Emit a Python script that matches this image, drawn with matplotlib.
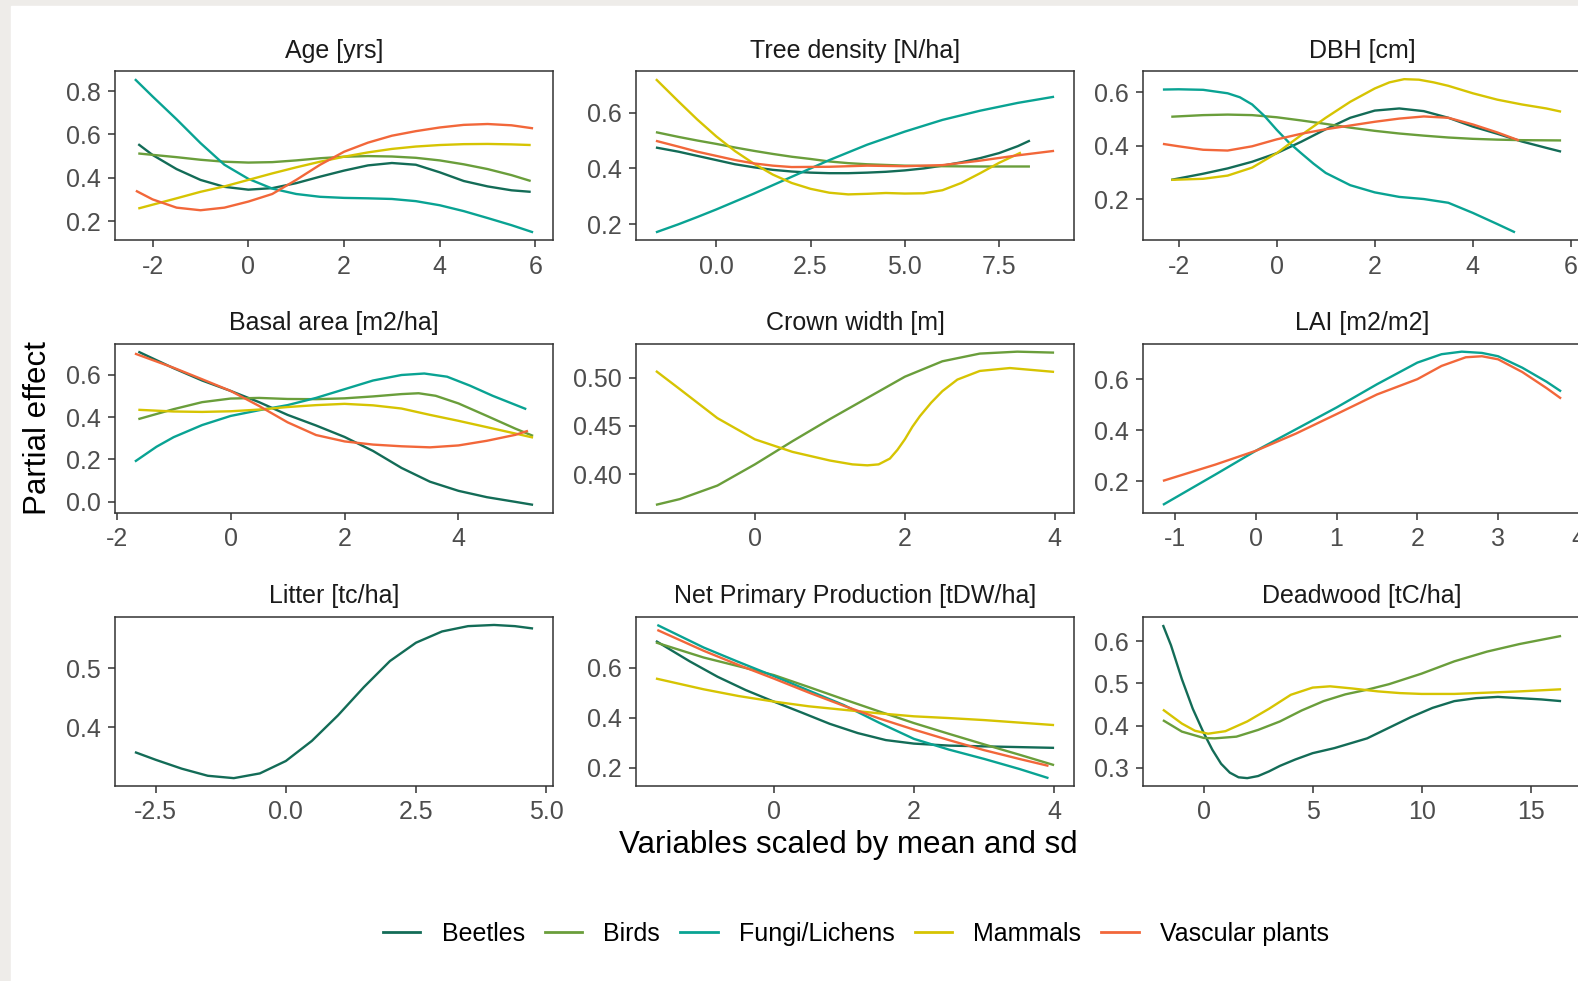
import matplotlib
matplotlib.use("Agg")
import matplotlib.pyplot as plt
from matplotlib.patches import Rectangle
from matplotlib.lines import Line2D

plt.rcParams['font.family'] = ['Liberation Sans', 'DejaVu Sans']

species = ["Beetles", "Birds", "Fungi/Lichens", "Mammals", "Vascular plants"]
colors = ["#136c57", "#6a9e3b", "#09a393", "#d6c402", "#f2673a"]

titles = ["Age [yrs]", "Tree density [N/ha]", "DBH [cm]",
          "Basal area [m2/ha]", "Crown width [m]", "LAI [m2/m2]",
          "Litter [tc/ha]", "Net Primary Production [tDW/ha]", "Deadwood [tC/ha]"]

# tick positions / labels
xticks = [[-2, 0, 2, 4, 6], [0.0, 2.5, 5.0, 7.5], [-2, 0, 2, 4, 6],
          [-2, 0, 2, 4], [0, 2, 4], [-1, 0, 1, 2, 3, 4],
          [-2.5, 0.0, 2.5, 5.0], [0, 2, 4], [0, 5, 10, 15]]
xfmt = ["{:.0f}", "{:.1f}", "{:.0f}", "{:.0f}", "{:.0f}", "{:.0f}", "{:.1f}", "{:.0f}", "{:.0f}"]
yticks = [[0.2, 0.4, 0.6, 0.8], [0.2, 0.4, 0.6], [0.2, 0.4, 0.6],
          [0.0, 0.2, 0.4, 0.6], [0.40, 0.45, 0.50], [0.2, 0.4, 0.6],
          [0.4, 0.5], [0.2, 0.4, 0.6], [0.3, 0.4, 0.5, 0.6]]
yfmt = ["{:.1f}", "{:.1f}", "{:.1f}", "{:.1f}", "{:.2f}", "{:.1f}", "{:.1f}", "{:.1f}", "{:.1f}"]

# ---- Age
age_beetles_x = [-2.3, -2.0, -1.5, -1.0, -0.5, 0.0, 0.5, 1.0, 1.5, 2.0, 2.5, 3.0, 3.5, 4.0, 4.5, 5.0, 5.5, 5.9]
age_beetles_y = [0.555, 0.505, 0.44, 0.39, 0.358, 0.345, 0.352, 0.375, 0.405, 0.433, 0.457, 0.468, 0.46, 0.425, 0.385, 0.36, 0.342, 0.335]
age_birds_x = [-2.3, -1.5, -1.0, -0.5, 0.0, 0.5, 1.0, 1.5, 2.0, 2.5, 3.0, 3.5, 4.0, 4.5, 5.0, 5.5, 5.9]
age_birds_y = [0.512, 0.495, 0.483, 0.474, 0.47, 0.472, 0.48, 0.49, 0.497, 0.5, 0.498, 0.492, 0.48, 0.462, 0.44, 0.412, 0.385]
age_fungi_x = [-2.37, -2.0, -1.5, -1.0, -0.5, 0.0, 0.5, 1.0, 1.5, 2.0, 2.5, 3.0, 3.5, 4.0, 4.5, 5.0, 5.5, 5.95]
age_fungi_y = [0.855, 0.775, 0.67, 0.56, 0.46, 0.395, 0.35, 0.325, 0.312, 0.307, 0.305, 0.302, 0.292, 0.273, 0.246, 0.214, 0.181, 0.148]
age_mammals_x = [-2.3, -1.5, -1.0, -0.5, 0.0, 0.5, 1.0, 1.5, 2.0, 2.5, 3.0, 3.5, 4.0, 4.5, 5.0, 5.5, 5.9]
age_mammals_y = [0.258, 0.305, 0.335, 0.36, 0.39, 0.42, 0.448, 0.474, 0.497, 0.517, 0.533, 0.544, 0.551, 0.555, 0.556, 0.554, 0.551]
age_vascular_x = [-2.35, -2.0, -1.5, -1.0, -0.5, 0.0, 0.5, 1.0, 1.5, 2.0, 2.5, 3.0, 3.5, 4.0, 4.5, 5.0, 5.5, 5.95]
age_vascular_y = [0.34, 0.30, 0.262, 0.25, 0.262, 0.29, 0.325, 0.39, 0.46, 0.52, 0.562, 0.594, 0.615, 0.632, 0.644, 0.648, 0.642, 0.628]

# ---- Tree density
tree_beetles_x = [-1.6, -1.0, -0.5, 0.0, 0.5, 1.0, 1.5, 2.0, 2.5, 3.0, 3.5, 4.0, 4.5, 5.0, 5.5, 6.0, 6.5, 7.0, 7.5, 8.0, 8.32]
tree_beetles_y = [0.475, 0.46, 0.445, 0.43, 0.415, 0.404, 0.395, 0.389, 0.385, 0.383, 0.383, 0.385, 0.388, 0.393, 0.4, 0.41, 0.422, 0.437, 0.455, 0.48, 0.5]
tree_birds_x = [-1.6, -1.0, -0.5, 0.0, 0.5, 1.0, 1.5, 2.0, 2.5, 3.0, 3.5, 4.0, 5.0, 6.0, 7.0, 8.32]
tree_birds_y = [0.53, 0.513, 0.5, 0.488, 0.475, 0.463, 0.452, 0.442, 0.434, 0.425, 0.419, 0.415, 0.41, 0.408, 0.407, 0.407]
tree_fungi_x = [-1.6, -1.0, -0.5, 0.0, 1.0, 2.0, 3.0, 4.0, 5.0, 6.0, 7.0, 8.0, 8.96]
tree_fungi_y = [0.171, 0.2, 0.226, 0.253, 0.31, 0.37, 0.43, 0.485, 0.532, 0.574, 0.607, 0.635, 0.657]
tree_mammals_x = [-1.6, -1.0, -0.5, 0.0, 0.5, 1.0, 1.5, 2.0, 2.5, 3.0, 3.5, 4.0, 4.5, 5.0, 5.5, 6.0, 6.5, 7.0, 7.5, 8.08]
tree_mammals_y = [0.72, 0.64, 0.575, 0.515, 0.462, 0.417, 0.378, 0.348, 0.327, 0.313, 0.307, 0.309, 0.312, 0.31, 0.311, 0.322, 0.348, 0.383, 0.42, 0.457]
tree_vascular_x = [-1.6, -1.0, -0.5, 0.0, 0.5, 1.0, 1.5, 2.0, 3.0, 4.0, 5.0, 6.0, 7.0, 8.0, 8.96]
tree_vascular_y = [0.499, 0.478, 0.46, 0.445, 0.43, 0.418, 0.41, 0.405, 0.406, 0.41, 0.408, 0.412, 0.428, 0.447, 0.463]

# ---- DBH
dbh_beetles_x = [-2.15, -1.5, -1.0, -0.5, 0.0, 0.5, 1.0, 1.5, 2.0, 2.5, 3.0, 3.5, 4.0, 4.5, 5.0, 5.5, 5.8]
dbh_beetles_y = [0.272, 0.295, 0.315, 0.34, 0.372, 0.415, 0.462, 0.505, 0.532, 0.54, 0.53, 0.505, 0.472, 0.445, 0.416, 0.392, 0.378]
dbh_birds_x = [-2.15, -1.5, -1.0, -0.5, 0.0, 0.5, 1.0, 1.5, 2.0, 2.5, 3.0, 3.5, 4.0, 4.5, 5.0, 5.8]
dbh_birds_y = [0.509, 0.515, 0.517, 0.515, 0.507, 0.495, 0.482, 0.468, 0.456, 0.446, 0.438, 0.431, 0.426, 0.423, 0.421, 0.42]
dbh_fungi_x = [-2.32, -2.0, -1.5, -1.0, -0.75, -0.5, -0.25, 0.0, 0.25, 0.5, 0.75, 1.0, 1.5, 2.0, 2.5, 3.0, 3.5, 4.0, 4.5, 4.86]
dbh_fungi_y = [0.611, 0.612, 0.61, 0.597, 0.582, 0.555, 0.512, 0.46, 0.412, 0.372, 0.333, 0.298, 0.252, 0.225, 0.208, 0.2, 0.186, 0.148, 0.106, 0.075]
dbh_mammals_x = [-2.15, -1.5, -1.0, -0.5, 0.0, 0.5, 1.0, 1.5, 2.0, 2.3, 2.6, 2.9, 3.2, 3.5, 4.0, 4.5, 5.0, 5.5, 5.8]
dbh_mammals_y = [0.272, 0.276, 0.288, 0.318, 0.372, 0.44, 0.505, 0.565, 0.615, 0.638, 0.65, 0.648, 0.638, 0.625, 0.597, 0.573, 0.555, 0.54, 0.528]
dbh_vascular_x = [-2.32, -2.0, -1.5, -1.0, -0.5, 0.0, 0.5, 1.0, 1.5, 2.0, 2.5, 3.0, 3.5, 4.0, 4.5, 4.94]
dbh_vascular_y = [0.407, 0.398, 0.385, 0.382, 0.398, 0.424, 0.445, 0.462, 0.476, 0.49, 0.502, 0.51, 0.505, 0.48, 0.45, 0.42]

# ---- Basal area
basal_beetles_x = [-1.62, -1.0, -0.5, 0.0, 0.5, 1.0, 1.5, 2.0, 2.5, 3.0, 3.5, 4.0, 4.5, 5.0, 5.31]
basal_beetles_y = [0.708, 0.63, 0.572, 0.523, 0.47, 0.41, 0.36, 0.306, 0.24, 0.16, 0.095, 0.052, 0.022, 0.0, -0.014]
basal_birds_x = [-1.62, -1.0, -0.5, 0.0, 0.5, 1.0, 1.5, 2.0, 2.5, 3.0, 3.3, 3.6, 4.0, 4.5, 5.0, 5.31]
basal_birds_y = [0.39, 0.437, 0.47, 0.487, 0.49, 0.485, 0.484, 0.488, 0.497, 0.508, 0.512, 0.5, 0.464, 0.405, 0.345, 0.311]
basal_fungi_x = [-1.68, -1.3, -1.0, -0.5, 0.0, 0.5, 1.0, 1.5, 2.0, 2.5, 3.0, 3.4, 3.8, 4.2, 4.6, 5.19]
basal_fungi_y = [0.19, 0.26, 0.305, 0.362, 0.405, 0.432, 0.456, 0.49, 0.531, 0.572, 0.598, 0.605, 0.59, 0.548, 0.5, 0.437]
basal_mammals_x = [-1.62, -1.0, -0.5, 0.0, 0.5, 1.0, 1.5, 2.0, 2.5, 3.0, 3.5, 4.0, 4.5, 5.0, 5.31]
basal_mammals_y = [0.434, 0.426, 0.424, 0.427, 0.435, 0.447, 0.456, 0.462, 0.455, 0.44, 0.41, 0.382, 0.352, 0.322, 0.303]
basal_vascular_x = [-1.68, -1.0, -0.5, 0.0, 0.5, 1.0, 1.5, 2.0, 2.5, 3.0, 3.5, 4.0, 4.5, 5.0, 5.22]
basal_vascular_y = [0.699, 0.632, 0.578, 0.523, 0.452, 0.375, 0.315, 0.285, 0.27, 0.262, 0.257, 0.266, 0.288, 0.316, 0.335]

# ---- Crown width
crown_birds_x = [-1.32, -1.0, -0.5, 0.0, 0.5, 1.0, 1.5, 2.0, 2.5, 3.0, 3.5, 3.99]
crown_birds_y = [0.368, 0.374, 0.388, 0.41, 0.434, 0.457, 0.479, 0.501, 0.517, 0.525, 0.527, 0.526]
crown_mammals_x = [-1.32, -1.0, -0.5, 0.0, 0.5, 1.0, 1.3, 1.5, 1.65, 1.8, 1.9, 2.0, 2.1, 2.2, 2.35, 2.5, 2.7, 3.0, 3.4, 3.99]
crown_mammals_y = [0.507, 0.488, 0.458, 0.436, 0.423, 0.414, 0.41, 0.409, 0.41, 0.416, 0.425, 0.436, 0.449, 0.46, 0.474, 0.486, 0.498, 0.507, 0.51, 0.506]

# ---- LAI
lai_fungi_x = [-1.15, -0.5, 0.0, 0.5, 1.0, 1.5, 2.0, 2.3, 2.55, 2.8, 3.0, 3.3, 3.6, 3.78]
lai_fungi_y = [0.107, 0.226, 0.319, 0.404, 0.489, 0.58, 0.665, 0.698, 0.708, 0.703, 0.69, 0.645, 0.59, 0.552]
lai_vascular_x = [-1.15, -0.5, 0.0, 0.5, 1.0, 1.5, 2.0, 2.3, 2.6, 2.8, 3.0, 3.3, 3.6, 3.78]
lai_vascular_y = [0.201, 0.265, 0.319, 0.387, 0.463, 0.54, 0.6, 0.652, 0.686, 0.69, 0.678, 0.628, 0.565, 0.524]

# ---- Litter
litter_beetles_x = [-2.9, -2.5, -2.0, -1.5, -1.0, -0.5, 0.0, 0.5, 1.0, 1.5, 2.0, 2.5, 3.0, 3.5, 4.0, 4.4, 4.75]
litter_beetles_y = [0.358, 0.345, 0.33, 0.318, 0.314, 0.322, 0.343, 0.377, 0.42, 0.468, 0.512, 0.543, 0.562, 0.571, 0.573, 0.571, 0.567]

# ---- NPP
npp_beetles_x = [-1.68, -1.2, -0.8, -0.4, 0.0, 0.4, 0.8, 1.2, 1.6, 2.0, 2.5, 3.0, 3.5, 4.0]
npp_beetles_y = [0.706, 0.625, 0.563, 0.51, 0.464, 0.42, 0.375, 0.338, 0.31, 0.296, 0.288, 0.285, 0.282, 0.279]
npp_birds_x = [-1.68, -1.0, -0.5, 0.0, 0.5, 1.0, 1.5, 2.0, 2.5, 3.0, 3.5, 4.0]
npp_birds_y = [0.70, 0.64, 0.605, 0.57, 0.522, 0.473, 0.425, 0.378, 0.335, 0.293, 0.252, 0.21]
npp_fungi_x = [-1.66, -1.0, -0.5, 0.0, 0.5, 1.0, 1.5, 2.0, 2.5, 3.0, 3.5, 3.92]
npp_fungi_y = [0.77, 0.68, 0.622, 0.566, 0.508, 0.45, 0.38, 0.315, 0.272, 0.235, 0.195, 0.158]
npp_mammals_x = [-1.68, -1.0, -0.5, 0.0, 0.5, 1.0, 1.5, 2.0, 2.5, 3.0, 3.5, 4.0]
npp_mammals_y = [0.556, 0.513, 0.486, 0.464, 0.445, 0.431, 0.417, 0.405, 0.398, 0.39, 0.38, 0.37]
npp_vascular_x = [-1.66, -1.0, -0.5, 0.0, 0.5, 1.0, 1.5, 2.0, 2.5, 3.0, 3.5, 3.92]
npp_vascular_y = [0.75, 0.667, 0.61, 0.556, 0.5, 0.447, 0.397, 0.352, 0.31, 0.27, 0.235, 0.207]

# ---- Deadwood
dead_beetles_x = [-1.87, -1.5, -1.0, -0.5, 0.0, 0.4, 0.8, 1.2, 1.6, 2.0, 2.5, 3.0, 3.5, 4.2, 5.0, 6.0, 7.5, 8.5, 9.5, 10.5, 11.5, 12.5, 13.5, 14.5, 15.5, 16.4]
dead_beetles_y = [0.638, 0.59, 0.51, 0.44, 0.383, 0.343, 0.31, 0.289, 0.278, 0.276, 0.281, 0.292, 0.305, 0.32, 0.335, 0.347, 0.37, 0.395, 0.42, 0.442, 0.458, 0.465, 0.468, 0.465, 0.462, 0.458]
dead_birds_x = [-1.87, -1.0, 0.0, 0.5, 1.5, 2.5, 3.5, 4.5, 5.5, 6.5, 7.5, 8.5, 10.0, 11.5, 13.0, 14.5, 16.4]
dead_birds_y = [0.413, 0.386, 0.371, 0.37, 0.374, 0.39, 0.41, 0.436, 0.458, 0.474, 0.485, 0.498, 0.523, 0.552, 0.575, 0.593, 0.612]
dead_mammals_x = [-1.87, -1.0, -0.4, 0.2, 1.0, 2.0, 3.0, 4.0, 5.0, 5.8, 6.8, 8.0, 9.0, 10.0, 11.5, 13.0, 14.5, 16.4]
dead_mammals_y = [0.438, 0.405, 0.388, 0.381, 0.387, 0.41, 0.44, 0.473, 0.49, 0.493, 0.488, 0.481, 0.477, 0.475, 0.475, 0.478, 0.481, 0.486]

# panel -> list of (species index, x, y)
panels = [
    [(0, age_beetles_x, age_beetles_y), (1, age_birds_x, age_birds_y), (2, age_fungi_x, age_fungi_y),
     (3, age_mammals_x, age_mammals_y), (4, age_vascular_x, age_vascular_y)],
    [(0, tree_beetles_x, tree_beetles_y), (1, tree_birds_x, tree_birds_y), (2, tree_fungi_x, tree_fungi_y),
     (3, tree_mammals_x, tree_mammals_y), (4, tree_vascular_x, tree_vascular_y)],
    [(0, dbh_beetles_x, dbh_beetles_y), (1, dbh_birds_x, dbh_birds_y), (2, dbh_fungi_x, dbh_fungi_y),
     (3, dbh_mammals_x, dbh_mammals_y), (4, dbh_vascular_x, dbh_vascular_y)],
    [(0, basal_beetles_x, basal_beetles_y), (1, basal_birds_x, basal_birds_y), (2, basal_fungi_x, basal_fungi_y),
     (3, basal_mammals_x, basal_mammals_y), (4, basal_vascular_x, basal_vascular_y)],
    [(1, crown_birds_x, crown_birds_y), (3, crown_mammals_x, crown_mammals_y)],
    [(2, lai_fungi_x, lai_fungi_y), (4, lai_vascular_x, lai_vascular_y)],
    [(0, litter_beetles_x, litter_beetles_y)],
    [(0, npp_beetles_x, npp_beetles_y), (1, npp_birds_x, npp_birds_y), (2, npp_fungi_x, npp_fungi_y),
     (3, npp_mammals_x, npp_mammals_y), (4, npp_vascular_x, npp_vascular_y)],
    [(0, dead_beetles_x, dead_beetles_y), (1, dead_birds_x, dead_birds_y), (3, dead_mammals_x, dead_mammals_y)],
]

W, H = 1578, 981
fig = plt.figure(figsize=(W / 100, H / 100), dpi=100)

# screenshot edge (light strip at top and left)
fig.patches.append(Rectangle((0, 0), 1, 1, transform=fig.transFigure, color="#eeece9", zorder=-10))
fig.patches.append(Rectangle((11 / W, 0), 1, 1 - 6 / H, transform=fig.transFigure, color="white", zorder=-9))

col_left = [115, 636, 1143]
row_top = [71.5, 344, 617.3]
pw, ph = 438, 168.5

for i, lines in enumerate(panels):
    r, c = divmod(i, 3)
    ax = fig.add_axes([col_left[c] / W, 1 - (row_top[r] + ph) / H, pw / W, ph / H])
    allx, ally = [], []
    for k, xs, ys in lines:
        ax.plot(xs, ys, color=colors[k], lw=1.7, solid_capstyle="butt", solid_joinstyle="round")
        allx += xs
        ally += ys
    # ggplot-like 5% expansion
    dx = (max(allx) - min(allx)) * 0.05
    dy = (max(ally) - min(ally)) * 0.05
    ax.set_xlim(min(allx) - dx, max(allx) + dx)
    ax.set_ylim(min(ally) - dy, max(ally) + dy)
    ax.set_xticks(xticks[i])
    ax.set_xticklabels([xfmt[i].format(v) for v in xticks[i]])
    ax.set_yticks(yticks[i])
    ax.set_yticklabels([yfmt[i].format(v) for v in yticks[i]])
    ax.tick_params(length=5, width=1.1, color="#333333", labelsize=18, labelcolor="#4d4d4d")
    ax.tick_params(axis="x", pad=5.5)
    ax.tick_params(axis="y", pad=5)
    for s in ax.spines.values():
        s.set_color("#333333")
        s.set_linewidth(1.1)
    ax.set_title(titles[i], fontsize=18, color="#1a1a1a", pad=10)

fig.text(38 / W, 1 - 428 / H, "Partial effect", rotation=90, fontsize=22.5, ha="center", va="center")
fig.text(848 / W, 1 - 845 / H, "Variables scaled by mean and sd", fontsize=22.5, ha="center", va="center")

handles = [Line2D([], [], color=colors[k], lw=2.0) for k in range(len(species))]
fig.legend(handles, species, loc="center", bbox_to_anchor=(856 / W, 1 - 934 / H), ncol=5, frameon=False,
           fontsize=18, handlelength=1.5, handletextpad=0.85, columnspacing=0.8)

fig.savefig("out.png", dpi=100)
